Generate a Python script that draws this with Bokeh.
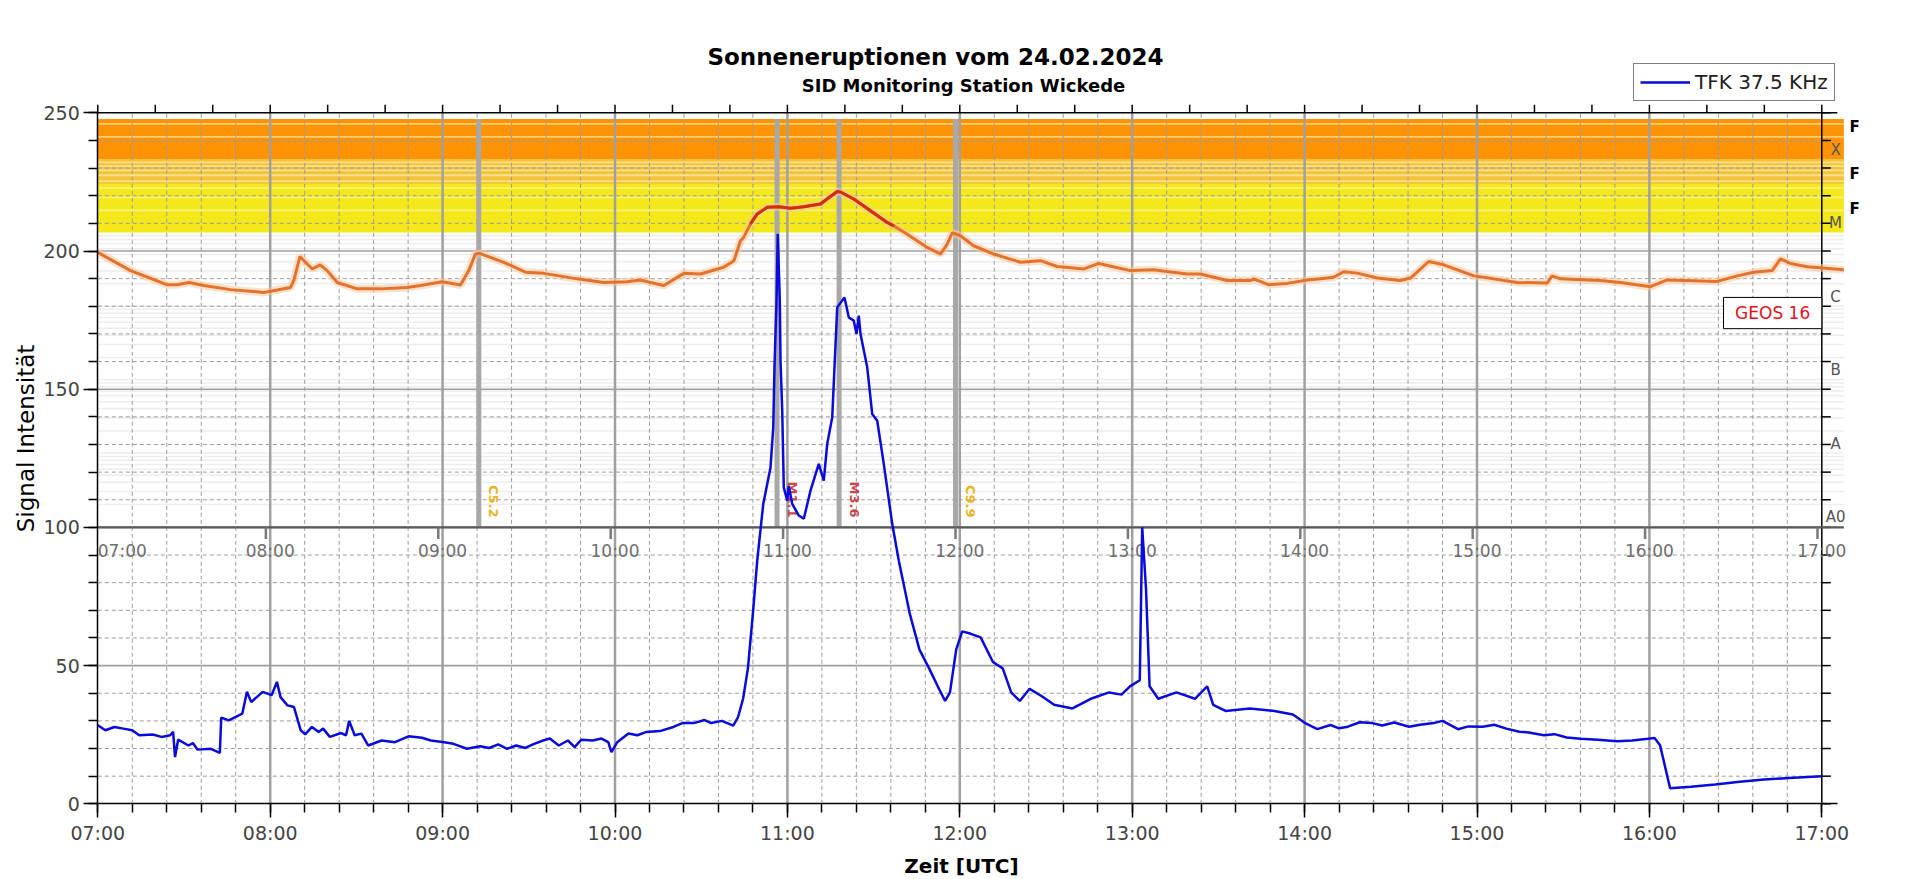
import math
from bokeh.plotting import figure
from bokeh.models import FixedTicker, Range1d, Label, Legend, LegendItem
from bokeh.core.properties import value
from bokeh.embed import file_html
from bokeh.resources import INLINE

FONT = "DejaVu Sans"

# ---------------- data ----------------
hour_ticks = [7, 8, 9, 10, 11, 12, 13, 14, 15, 16, 17]
hour_labels = ["07:00", "08:00", "09:00", "10:00", "11:00", "12:00",
               "13:00", "14:00", "15:00", "16:00", "17:00"]
y_ticks = [0, 50, 100, 150, 200, 250]

# VLF receiver signal (TFK 37.5 kHz), time in decimal hours UTC
tfk_time = [7.0, 7.044, 7.096, 7.148, 7.2, 7.24, 7.318, 7.37, 7.42, 7.437, 7.448, 7.466,
            7.526, 7.552, 7.578, 7.656, 7.708, 7.716, 7.76, 7.838, 7.865, 7.89, 7.956,
            8.008, 8.039, 8.06, 8.1, 8.138, 8.177, 8.203, 8.242, 8.281, 8.307, 8.346,
            8.411, 8.44, 8.458, 8.49, 8.529, 8.568, 8.646, 8.724, 8.802, 8.88, 8.932,
            9.01, 9.063, 9.141, 9.219, 9.27, 9.323, 9.375, 9.427, 9.479, 9.531, 9.583,
            9.622, 9.674, 9.727, 9.766, 9.805, 9.87, 9.922, 9.961, 9.979, 10.013,
            10.078, 10.13, 10.182, 10.26, 10.339, 10.391, 10.456, 10.52, 10.558, 10.62,
            10.686, 10.714, 10.743, 10.771, 10.8, 10.825, 10.86, 10.902, 10.918, 10.925,
            10.937, 10.944, 10.956, 10.96, 10.97, 10.979, 10.999, 11.008, 11.028,
            11.066, 11.095, 11.134, 11.182, 11.211, 11.231, 11.26, 11.289, 11.331,
            11.356, 11.385, 11.401, 11.414, 11.424, 11.463, 11.492, 11.521, 11.559,
            11.608, 11.646, 11.709, 11.766, 11.822, 11.872, 11.915, 11.943, 11.979,
            12.014, 12.064, 12.121, 12.192, 12.249, 12.298, 12.348, 12.405, 12.476,
            12.547, 12.653, 12.76, 12.866, 12.938, 12.987, 13.044, 13.058, 13.08,
            13.101, 13.151, 13.257, 13.364, 13.435, 13.47, 13.541, 13.683, 13.825,
            13.932, 14.003, 14.074, 14.15, 14.2, 14.251, 14.32, 14.393, 14.45, 14.52,
            14.606, 14.67, 14.749, 14.8, 14.89, 14.95, 15.033, 15.1, 15.17, 15.246,
            15.3, 15.388, 15.45, 15.52, 15.601, 15.7, 15.814, 15.9, 15.991, 16.03,
            16.062, 16.12, 16.24, 16.382, 16.524, 16.666, 16.808, 17.0]
tfk_signal = [28.4, 26.6, 27.8, 27.2, 26.6, 24.8, 25.1, 24.2, 24.8, 26.0, 16.9, 23.2,
              21.1, 22.0, 19.6, 19.9, 18.4, 31.2, 30.2, 32.6, 40.5, 36.8, 40.5,
              39.3, 44.1, 38.6, 35.6, 35.0, 26.6, 25.1, 27.8, 26.0, 27.2, 24.2,
              25.6, 24.8, 30.0, 24.8, 25.4, 21.1, 22.9, 22.3, 24.4, 23.9, 22.9,
              22.3, 21.7, 19.9, 20.8, 20.2, 21.5, 19.9, 21.1, 20.2, 21.7, 22.9,
              23.6, 21.1, 22.9, 20.5, 23.2, 22.9, 23.6, 22.3, 18.7, 22.3,
              25.4, 24.8, 26.0, 26.3, 27.8, 29.2, 29.2, 30.3, 29.2, 30.0,
              28.3, 31.4, 38.0, 49.0, 69.0, 88.0, 108.5, 121.7, 136.2, 157.9,
              182.0, 206.1, 182.0, 160.3, 142.2, 114.5, 109.7, 115.1, 108.5,
              104.3, 103.1, 113.3, 123.0, 116.9, 130.2, 139.8, 179.6, 183.2,
              176.0, 174.8, 170.0, 176.6, 170.0, 157.9, 141.0, 138.6, 123.0,
              101.3, 88.0, 69.0, 55.8, 49.0, 42.5, 37.2, 40.3, 55.8,
              62.4, 61.5, 60.2, 51.3, 49.0, 40.3, 37.2, 41.6, 38.9,
              35.8, 34.5, 38.0, 40.3, 39.5, 42.5, 44.7, 100.0, 77.9,
              42.5, 38.0, 40.3, 38.0, 42.5, 35.8, 33.6, 34.5, 33.6,
              32.3, 29.2, 27.0, 28.5, 27.3, 27.9, 29.5, 29.2, 28.3, 29.4,
              27.9, 28.6, 29.2, 30.0, 27.0, 28.0, 27.9, 28.6, 27.2, 26.1,
              25.8, 24.8, 25.2, 24.0, 23.5, 23.2, 22.6, 22.9, 23.5, 23.8,
              21.2, 5.6, 6.2, 7.0, 8.0, 8.8, 9.3, 10.0]

# GOES 16 X-ray flux (W/m^2)
goes_time = [7.0, 7.19, 7.40, 7.46, 7.53, 7.615, 7.77, 7.963, 8.118, 8.137, 8.172, 8.205,
             8.244, 8.29, 8.33, 8.389, 8.505, 8.64, 8.795, 8.872, 8.998, 9.104, 9.152,
             9.19, 9.215, 9.355, 9.481, 9.587, 9.78, 9.935, 10.07, 10.148, 10.206,
             10.283, 10.4, 10.496, 10.63, 10.69, 10.728, 10.747, 10.786, 10.825,
             10.883, 10.95, 11.018, 11.095, 11.192, 11.23, 11.289, 11.308, 11.385,
             11.482, 11.579, 11.617, 11.695, 11.811, 11.888, 11.927, 11.956, 12.004,
             12.08, 12.197, 12.352, 12.468, 12.565, 12.72, 12.806, 12.99, 13.125,
             13.2, 13.319, 13.396, 13.551, 13.686, 13.705, 13.79, 13.9, 14.015,
             14.092, 14.168, 14.226, 14.305, 14.421, 14.556, 14.614, 14.662, 14.72,
             14.807, 14.982, 15.097, 15.233, 15.407, 15.436, 15.484, 15.716, 15.832,
             16.006, 16.103, 16.393, 16.51, 16.606, 16.712, 16.76, 16.818, 16.915,
             17.128]
goes_flux = [5.36e-6, 3.03e-6, 1.95e-6, 1.95e-6, 2.09e-6, 1.90e-6, 1.67e-6, 1.53e-6,
             1.79e-6, 2.22e-6, 4.71e-6, 3.93e-6, 3.19e-6, 3.63e-6, 3.03e-6, 2.09e-6,
             1.71e-6, 1.71e-6, 1.79e-6, 1.90e-6, 2.14e-6, 1.93e-6, 3.03e-6, 5.1e-6,
             5.2e-6, 3.93e-6, 2.88e-6, 2.78e-6, 2.34e-6, 2.09e-6, 2.14e-6, 2.26e-6,
             2.09e-6, 1.90e-6, 2.78e-6, 2.73e-6, 3.36e-6, 4.14e-6, 7.71e-6, 8.63e-6,
             1.31e-5, 1.79e-5, 2.2e-5, 2.24e-5, 2.14e-5, 2.24e-5, 2.44e-5, 2.85e-5,
             3.6e-5, 3.55e-5, 2.85e-5, 1.98e-5, 1.37e-5, 1.23e-5, 9.49e-6, 6.27e-6,
             5.09e-6, 6.95e-6, 9.9e-6, 9.02e-6, 6.6e-6, 5.09e-6, 3.93e-6, 4.14e-6,
             3.45e-6, 3.19e-6, 3.79e-6, 3.03e-6, 3.11e-6, 2.95e-6, 2.73e-6, 2.73e-6,
             2.22e-6, 2.22e-6, 2.34e-6, 1.95e-6, 2.03e-6, 2.26e-6, 2.34e-6, 2.46e-6,
             2.92e-6, 2.80e-6, 2.40e-6, 2.22e-6, 2.40e-6, 3.03e-6, 4.03e-6, 3.63e-6,
             2.57e-6, 2.34e-6, 2.09e-6, 2.05e-6, 2.57e-6, 2.34e-6, 2.22e-6, 2.09e-6,
             1.83e-6, 2.26e-6, 2.16e-6, 2.57e-6, 2.88e-6, 3.03e-6, 4.36e-6, 3.79e-6,
             3.42e-6, 3.11e-6]

flare_time = [9.21, 10.94, 11.30, 11.975]
flare_class = ["C5.2", "M1.1", "M3.6", "C9.9"]

class_letters = ["A0", "A", "B", "C", "M", "X"]
class_flux = [1e-9, 1e-8, 1e-7, 1e-6, 1e-5, 1e-4]

# ---------------- overlay scale (GOES panel drawn into upper part) ----------------
Y_A0 = 100.3      # position of 1e-9 W/m^2
DEC = 26.6        # height of one decade
OV_TOP = 247.8
OV_RIGHT = 17.128


def gy(f):
    return Y_A0 + DEC * (math.log10(f) + 9)


# ---------------- figure (frame covers the whole canvas, axes at fixed locations) ----------------
PX_PER_UNIT = 691 / 250.0
PX_PER_HOUR = 172.4
ZERO_PX = 803.3          # canvas y of signal value 0
LEFT_PX = 97.3           # canvas x of 07:00
W, H = 1910, 879

p = figure(width=W, height=H,
           x_range=Range1d(7.0 - LEFT_PX / PX_PER_HOUR, 7.0 + (W - LEFT_PX) / PX_PER_HOUR),
           y_range=Range1d(-(H - ZERO_PX) / PX_PER_UNIT, ZERO_PX / PX_PER_UNIT),
           output_backend="svg", toolbar_location=None,
           min_border_left=0, min_border_right=0, min_border_top=0, min_border_bottom=0)
p.grid.visible = False
p.outline_line_color = None
p.background_fill_color = "white"
p.border_fill_color = "white"

# bottom axis at value 0
xa = p.xaxis[0]
xa.fixed_location = 0
xa.ticker = FixedTicker(ticks=hour_ticks, minor_ticks=[7 + k * 0.2 for k in range(51)])
xa.major_label_overrides = {h: lab for h, lab in zip(hour_ticks, hour_labels)}
xa.bounds = (7.0, 17.09)
xa.major_label_text_font = FONT
xa.major_label_text_font_size = "19px"
xa.major_label_standoff = 4
xa.major_tick_out = 14
xa.major_tick_in = 0
xa.minor_tick_out = 9
xa.minor_tick_in = 0
xa.axis_line_width = 1.5
xa.major_tick_line_width = 1.5
xa.minor_tick_line_width = 1.5

# left axis at 07:00
ya = p.yaxis[0]
ya.fixed_location = 7.0
ya.ticker = FixedTicker(ticks=y_ticks, minor_ticks=list(range(0, 251, 10)))
ya.bounds = (0, 250)
ya.major_label_text_font = FONT
ya.major_label_text_font_size = "19px"
ya.major_label_standoff = 4
ya.major_tick_out = 14
ya.major_tick_in = 0
ya.minor_tick_out = 9
ya.minor_tick_in = 0
ya.axis_line_width = 1.5
ya.major_tick_line_width = 1.5
ya.minor_tick_line_width = 1.5

# ---------------- GOES overlay bands ----------------
p.quad(left=7.0, right=OV_RIGHT, bottom=gy(1e-4), top=OV_TOP, fill_color="#FF9306", line_color=None)
p.quad(left=7.0, right=OV_RIGHT, bottom=gy(1e-5), top=gy(1e-4), fill_color="#F4E81A", line_color=None)
p.quad(left=7.0, right=OV_RIGHT, bottom=gy(4.6e-5), top=gy(1e-4), fill_color="#F6C23C", line_color=None)

band_x, band_y = [], []
faint_x, faint_y = [], []
for d in range(-9, -3):
    for m in range(1, 10):
        yy = gy(m * 10.0 ** d)
        if yy >= OV_TOP:
            continue
        if d >= -5:
            if m > 1:
                band_x.append([7.0, OV_RIGHT])
                band_y.append([yy, yy])
        else:
            faint_x.append([7.0, OV_RIGHT])
            faint_y.append([yy, yy])
p.multi_line(faint_x, faint_y, line_color="#EDEDED", line_width=1.5)
p.multi_line(band_x, band_y, line_color="#FFF6C0", line_width=1.8, line_alpha=0.6)

# ---------------- main grid ----------------
minor_v = [7 + k * 0.2 for k in range(1, 50) if k % 5 != 0]
p.multi_line([[t, t] for t in minor_v], [[0, 250]] * len(minor_v),
             line_color="#9C9C9C", line_width=1, line_dash="4 3")
minor_h = [v for v in range(10, 250, 10) if v % 50 != 0]
p.multi_line([[7.0, 17.0]] * len(minor_h), [[v, v] for v in minor_h],
             line_color="#9C9C9C", line_width=1, line_dash="4 3")
major_h = [50, 100, 150, 200]
p.multi_line([[7.0, 17.0]] * len(major_h), [[v, v] for v in major_h],
             line_color="#A0A0A0", line_width=1.6)
major_v = hour_ticks[1:-1]
p.multi_line([[t, t] for t in major_v], [[0, 250]] * len(major_v),
             line_color="#A0A0A0", line_width=2.5)

# top frame line with ticks, right frame line with ticks
top_ticks = [7 + k / 3 for k in range(31)]
p.segment(x0=[7.0], y0=[250], x1=[17.09], y1=[250], line_color="black", line_width=1.5)
p.segment(x0=top_ticks, y0=[250] * len(top_ticks), x1=top_ticks,
          y1=[250 + 8 / PX_PER_UNIT] * len(top_ticks), line_color="black", line_width=1.5)
p.segment(x0=[17.0], y0=[0], x1=[17.0], y1=[250], line_color="black", line_width=1.5)
rt = list(range(0, 251, 10))
p.segment(x0=[17.0] * len(rt), y0=rt, x1=[17.0 + 9 / PX_PER_HOUR] * len(rt), y1=rt,
          line_color="black", line_width=1.5)

# ---------------- GOES overlay contents ----------------
p.segment(x0=flare_time, y0=[100] * len(flare_time), x1=flare_time, y1=[OV_TOP] * len(flare_time),
          line_color="#A8A8A8", line_width=5)
flare_colors = ["#F0B020" if c.startswith("C") else "#C84848" for c in flare_class]
p.text(x=flare_time, y=[103.6] * len(flare_time), text=flare_class, angle=-math.pi / 2,
       x_offset=15, text_align="right", text_baseline="middle", text_color=flare_colors,
       text_font=value(FONT), text_font_style="bold", text_font_size="13px")

p.segment(x0=[7.0], y0=[100], x1=[OV_RIGHT], y1=[100], line_color="#5A5A5A", line_width=2.2)
ov_ticks = [h - 0.025 for h in hour_ticks[1:]]
p.segment(x0=ov_ticks, y0=[100] * len(ov_ticks), x1=ov_ticks, y1=[95.8] * len(ov_ticks),
          line_color="#7A7A7A", line_width=2.5)
p.text(x=[hour_ticks[0]], y=[91.3], text=[hour_labels[0]], text_align="left", text_baseline="middle",
       text_color="#6E6E6E", text_font=value(FONT), text_font_size="17px")
p.text(x=hour_ticks[1:], y=[91.3] * (len(hour_ticks) - 1), text=hour_labels[1:], text_align="center",
       text_baseline="middle", text_color="#6E6E6E", text_font=value(FONT), text_font_size="17px")

p.text(x=[17.08] * len(class_letters), y=[gy(f) + 3.3 for f in class_flux], text=class_letters,
       text_align="center", text_baseline="middle", text_color="#555555",
       text_font=value(FONT), text_font_size="15px")
p.text(x=[17.19] * 3, y=[245.0, 228.0, 215.2], text=["F", "F", "F"], text_align="center",
       text_baseline="middle", text_color="black", text_font=value(FONT),
       text_font_style="bold", text_font_size="15px")

gys = [gy(f) for f in goes_flux]
p.line(goes_time, gys, line_color="#F9C8A0", line_width=8, line_alpha=0.55)
p.line(goes_time, gys, line_color="#E2722C", line_width=3)
runs, cur = [], []
for t, f, yv in zip(goes_time, goes_flux, gys):
    if f >= 1e-5:
        cur.append((t, yv))
    elif cur:
        runs.append(cur)
        cur = []
if cur:
    runs.append(cur)
p.multi_line([[a for a, _ in r] for r in runs], [[b for _, b in r] for r in runs],
             line_color="#D0300F", line_width=3)

p.quad(left=16.43, right=17.0, bottom=171.9, top=183.2, fill_color="white", line_color="black",
       line_width=1)
p.text(x=[16.715], y=[177.5], text=["GEOS 16"], text_align="center", text_baseline="middle",
       text_color="#E3121B", text_font=value(FONT), text_font_size="17px")

# ---------------- SID signal ----------------
blue = p.line(tfk_time, tfk_signal, line_color="#0A0ADC", line_width=2.5)

legend = Legend(items=[LegendItem(label="TFK 37.5 KHz", renderers=[blue])], location=(1633, 778),
                border_line_color="black", border_line_width=1, background_fill_color="white",
                background_fill_alpha=1, padding=6, glyph_width=50, glyph_height=20,
                label_height=20, label_standoff=5, label_text_font=FONT,
                label_text_font_size="20px", label_text_color="#202020")
p.add_layout(legend)

# titles and axis titles (screen units, measured from the canvas bottom-left)
p.add_layout(Label(x=935, y=H - 56, x_units="screen", y_units="screen",
                   text="Sonneneruptionen vom 24.02.2024",
                   text_align="center", text_baseline="middle", text_font=FONT, text_font_style="bold",
                   text_font_size="23px", text_color="black"))
p.add_layout(Label(x=963, y=H - 85, x_units="screen", y_units="screen",
                   text="SID Monitoring Station Wickede",
                   text_align="center", text_baseline="middle", text_font=FONT, text_font_style="bold",
                   text_font_size="18px", text_color="black"))
p.add_layout(Label(x=961, y=H - 865, x_units="screen", y_units="screen", text="Zeit [UTC]",
                   text_align="center", text_baseline="middle", text_font=FONT, text_font_style="bold",
                   text_font_size="20px", text_color="black"))
p.add_layout(Label(x=25, y=H - 438, x_units="screen", y_units="screen", text="Signal Intensität",
                   angle=math.pi / 2, text_align="center", text_baseline="middle", text_font=FONT,
                   text_font_size="23px", text_color="black"))

open("out.html", "w").write(file_html(p, INLINE))
